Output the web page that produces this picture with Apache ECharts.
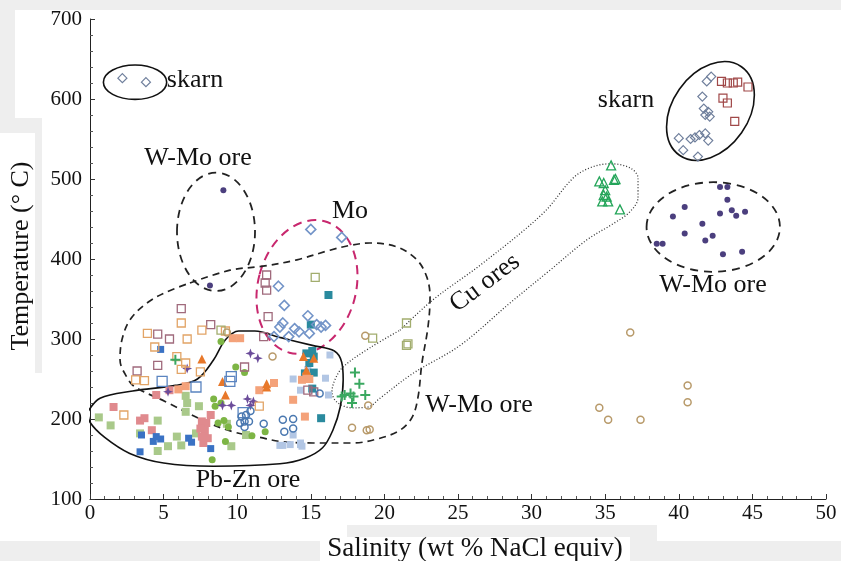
<!DOCTYPE html>
<html>
<head>
<meta charset="utf-8">
<script src="https://cdn.jsdelivr.net/npm/echarts@6.0.0/dist/echarts.min.js"></script>
<style>
  html, body { margin: 0; padding: 0; background: #ffffff; }
  #chart { width: 841px; height: 561px; }
</style>
</head>
<body>
<div id="chart"></div>
<script>
// Salinity (wt % NaCl equiv) vs homogenization temperature (°C)

// ---- axes ----
const xMin = 0, xMax = 50, xStep = 5;
const yMin = 100, yMax = 700, yStep = 100;

// ---- fluid-inclusion data, [salinity, temperature] ----
const skarnDiamonds = [[2.2,626],[3.8,621],[41.9,622],[42.2,628],[41.6,603],[41.7,588],[42.0,584],[41.8,580],[42.1,578],[40.0,551],[40.8,550],[41.1,552],[41.4,555],[41.8,557],[42.0,548],[40.3,536],[41.3,528]];
const skarnSquares = [[42.9,622],[43.3,620],[43.7,620],[44.0,621],[44.7,615],[43.0,601],[43.3,595],[43.8,572]];
const wmoDots = [[9.06,486],[8.15,367],[42.8,490],[43.3,490],[43.3,474],[42.8,457],[43.6,461],[43.9,454],[44.5,459],[40.4,465],[39.6,453],[41.6,444],[40.4,432],[42.3,429],[41.8,423],[38.5,419],[38.9,419],[43.0,406],[44.3,409]];
const cuTriangles = [[35.4,517],[34.6,497],[34.9,495],[35.6,499],[35.7,500],[35.0,486],[34.9,480],[35.1,478],[34.8,472],[35.2,472],[36.0,462]];
const greenCrosses = [[18.0,258],[18.3,244],[17.3,230],[17.7,232],[17.9,228],[18.7,230],[17.1,228],[17.8,220],[5.8,274]];
const tanCircles = [[36.7,308],[40.6,242],[40.6,221],[34.6,214],[35.2,199],[37.4,199],[18.7,304],[18.9,217],[17.8,189],[18.8,186],[19.0,187],[12.4,278],[9.3,308]];
const oliveSquares = [[19.2,301],[21.5,292],[21.6,294],[21.5,320],[15.3,377],[8.9,311]];
const moDiamonds = [[15.0,437],[17.1,427],[12.8,366],[13.2,342],[14.8,329],[15.4,318],[16.0,317],[15.7,315],[14.9,307],[13.9,313],[14.2,309],[12.9,315],[13.1,320],[12.5,303],[13.5,303]];
const mauveSquares = [[12.0,380],[11.9,370],[12.0,361],[12.1,328],[11.8,303],[6.2,338],[4.6,306],[5.4,300],[4.6,267],[3.2,260],[8.2,318],[10.5,265],[14.8,236],[15.2,234]];
const orangeSquares = [[6.2,320],[3.9,307],[6.6,300],[7.6,311],[4.4,290],[6.5,270],[6.2,262],[3.1,249],[3.7,248],[7.5,259],[2.3,205],[11.5,216],[9.2,310],[5.9,278]];
const orangeTriangles = [[7.6,275],[9.0,247],[12.0,240],[12.0,244],[9.2,230],[14.5,278],[15.2,276],[14.7,261]];
const salmonSquares = [[11.5,236],[12.5,245],[14.7,253],[14.4,249],[13.8,224],[14.6,203],[9.7,301],[10.2,301],[14.9,250],[6.5,241],[6.0,237]];
const tealSquares = [[15.1,285],[15.2,278],[14.9,270],[14.6,257],[15.2,258],[15.1,238],[15.7,201],[16.2,355],[15.0,318],[14.7,282]];
const blueSquares = [[4.8,175],[4.3,172],[4.5,178],[3.5,180],[3.4,159],[6.7,176],[6.9,171],[4.8,287],[8.2,163]];
const pinkSquares = [[1.6,215],[3.4,198],[3.7,201],[4.2,186],[7.6,197],[7.9,195],[7.5,188],[7.8,185],[7.6,178],[8.0,176],[7.7,170],[4.5,230],[5.4,236],[8.2,205]];
const greenSquares = [[0.6,202],[1.4,192],[4.6,198],[3.4,182],[4.6,160],[5.3,166],[5.9,178],[6.2,167],[6.6,220],[6.5,209],[7.2,182],[9.3,194],[7.4,216],[9.6,166],[6.5,229],[10.6,180]];
const greenCircles = [[8.5,216],[8.7,195],[9.1,198],[9.2,172],[8.3,149],[11.0,179],[11.9,184],[8.9,297],[10.5,258],[8.4,225],[8.9,220],[9.4,190],[9.9,265]];
const purpleStars = [[10.9,282],[11.4,276],[9.6,217],[10.9,217],[11.1,222],[6.6,263],[9.0,217],[5.3,234],[10.7,225]];
const blueCircles = [[10.3,203],[10.6,205],[10.5,197],[10.8,197],[10.2,195],[10.5,190],[11.8,194],[13.1,199],[13.8,200],[13.2,184],[13.8,188],[15.6,232],[10.9,210]];
const blueOpenSquares = [[4.9,247],[7.2,240],[9.6,253],[9.5,247],[10.4,208]];
const paleBlueSquares = [[13.8,250],[13.8,180],[14.3,168],[12.9,167],[14.3,170],[16.3,280],[16.0,251],[16.2,230],[14.3,236],[13.6,168],[14.4,166],[13.1,167],[14.8,262]];

// ---- field outlines, [salinity, temperature] ----
const pbZnOutline = [[-0.14,209],[0.68,226],[2.9,235],[5.8,242],[7.3,250],[8.4,274],[9.2,299],[10.1,310],[11.2,310],[12.9,302],[15.1,292],[16.6,285],[17.1,271],[17.2,249],[17.0,215],[16.5,186],[15.8,164],[14.6,151],[12.9,144],[8.4,141],[5.0,145],[2.7,157],[1.0,177],[0,196],[-0.14,209]];
const wmoOutline = [[6.79,370],[9.51,386],[11.75,391],[14.06,399],[16.3,411],[17.66,417],[19.02,420],[20.86,415],[22.21,399],[22.89,377],[23.1,352],[22.96,315],[22.55,270],[22.28,227],[21.88,202],[21.06,186],[19.7,176],[17.87,170],[15.15,170],[12.91,172],[11.55,177],[9.71,184],[7.95,196],[5.1,222],[3.06,240],[2.51,252],[2.04,274],[2.17,299],[2.72,324],[3.87,345],[5.23,359],[6.79,370]];
const cuOutline = [[21.06,311],[23.3,349],[26.7,395],[30.77,457],[32.81,501],[33.97,514],[35.33,519],[36.68,514],[37.23,501],[37.23,477],[36.68,459],[35.53,444],[33.76,424],[31.25,386],[28.53,345],[25.14,292],[21.94,257],[19.7,226],[18.89,215],[17.8,214],[16.78,221],[16.44,234],[16.64,249],[17.19,265],[19.02,289],[21.06,311]];
// ellipses: [centre x, centre y, half-width, half-height, tilt in degrees]
const solidEllipses = [[3.06,621,2.15,21.5,0],[42.15,585,2.58,67.5,-35]];
const dashedEllipses = [[8.56,434,2.65,74,0],[42.34,440,4.53,56,0]];
const moEllipse = [[14.74,365,3.33,85,-15]];

const FONT = '"Liberation Serif","Times New Roman",serif';

function points(data, symbol, size, fill, stroke, bw) {
  return {
    type: 'scatter', data, symbol, symbolSize: size, z: 4,
    itemStyle: { color: fill, borderColor: stroke, borderWidth: bw || 0, opacity: 1 },
    emphasis: { disabled: true }, silent: true
  };
}
const OPEN = 'rgba(0,0,0,0)';
const PLUS = 'path://M4,0H6V4H10V6H6V10H4V6H0V4H4Z';
const STAR = 'path://M5,0L6.3,3.7L10,5L6.3,6.3L5,10L3.7,6.3L0,5L3.7,3.7Z';

function outline(data, color, width, type) {
  return {
    type: 'line', data, smooth: 0.35, showSymbol: false, symbol: 'none', clip: false, z: 3,
    lineStyle: { color, width, type }, silent: true
  };
}
function ellipses(rows, color, width, dash) {
  return {
    type: 'custom', data: rows, clip: false, silent: true, z: 3,
    encode: { x: 0, y: 1 },
    renderItem(params, api) {
      const c = api.coord([api.value(0), api.value(1)]);
      const s = api.size([api.value(2), api.value(3)]);
      return {
        type: 'ellipse', x: c[0], y: c[1], rotation: api.value(4) * Math.PI / 180,
        shape: { cx: 0, cy: 0, rx: s[0], ry: s[1] },
        style: { fill: 'none', stroke: color, lineWidth: width, lineDash: dash }
      };
    }
  };
}

function label(text, x, y, rot) {
  return {
    type: 'text', x, y, rotation: rot || 0, z: 20,
    style: { text, font: '26px ' + FONT, fill: '#111', textAlign: 'center', textVerticalAlign: 'middle', align: 'center', verticalAlign: 'middle' }
  };
}

const chart = echarts.init(document.getElementById('chart'), null, { renderer: 'canvas' });
chart.setOption({
  animation: false,
  backgroundColor: '#ffffff',
  grid: { left: 90, right: 15, top: 19, bottom: 62, containLabel: false },
  xAxis: {
    type: 'value', min: xMin, max: xMax, interval: xStep,
    axisLine: { lineStyle: { color: '#222', width: 1 } },
    axisTick: { inside: true, length: 5, lineStyle: { color: '#333' } },
    minorTick: { show: true, splitNumber: 5, length: 3, lineStyle: { color: '#555' } },
    splitLine: { show: false },
    axisLabel: { color: '#111', fontFamily: FONT, fontSize: 21, margin: 4 }
  },
  yAxis: {
    type: 'value', min: yMin, max: yMax, interval: yStep,
    axisLine: { show: true, lineStyle: { color: '#222', width: 1 } },
    axisTick: { show: true, inside: true, length: 5, lineStyle: { color: '#333' } },
    minorTick: { show: true, splitNumber: 5, length: 3, lineStyle: { color: '#555' } },
    splitLine: { show: false },
    axisLabel: { color: '#111', fontFamily: FONT, fontSize: 21, margin: 8 }
  },
  graphic: [
    // scanned-page margins
    { type: 'rect', shape: { x: 0, y: 0, width: 841, height: 10 }, style: { fill: '#eeeeee' }, z: 0 },
    { type: 'rect', shape: { x: 0, y: 0, width: 15, height: 118 }, style: { fill: '#eeeeee' }, z: 0 },
    { type: 'rect', shape: { x: 0, y: 118, width: 42, height: 15 }, style: { fill: '#eeeeee' }, z: 0 },
    { type: 'rect', shape: { x: 35, y: 133, width: 7, height: 240 }, style: { fill: '#eeeeee' }, z: 0 },
    { type: 'rect', shape: { x: 0, y: 541, width: 841, height: 20 }, style: { fill: '#eeeeee' }, z: 0 },
    { type: 'rect', shape: { x: 347, y: 525, width: 310, height: 16 }, style: { fill: '#eeeeee' }, z: 0 },
    { type: 'rect', shape: { x: 320, y: 537, width: 310, height: 24 }, style: { fill: '#ffffff' }, z: 1 },
    // axis titles
    { type: 'text', x: 21, y: 256, rotation: Math.PI / 2, z: 20,
      style: { text: 'Temperature (° C)', font: '26px ' + FONT, fill: '#111', textAlign: 'center', textVerticalAlign: 'middle', align: 'center', verticalAlign: 'middle' } },
    { type: 'text', x: 475, y: 549, z: 20,
      style: { text: 'Salinity (wt % NaCl equiv)', font: '27px ' + FONT, fill: '#111', textAlign: 'center', textVerticalAlign: 'middle', align: 'center', verticalAlign: 'middle' } },
    // field labels
    label('skarn', 195, 80),
    label('W-Mo ore', 198, 158),
    label('Mo', 350, 211),
    label('Cu ores', 485, 283, 37 * Math.PI / 180),
    label('W-Mo ore', 479, 405),
    label('skarn', 626, 100),
    label('W-Mo ore', 713, 285),
    label('Pb-Zn ore', 248, 480)
  ],
  series: [
    outline(pbZnOutline, '#111', 1.6, 'solid'),
    outline(wmoOutline, '#222', 1.7, [7, 5]),
    outline(cuOutline, '#333', 1.3, [1, 2]),
    ellipses(solidEllipses, '#111', 1.6, null),
    ellipses(dashedEllipses, '#222', 1.8, [8, 6]),
    ellipses(moEllipse, '#c8286e', 2, [9, 6]),

    points(greenSquares, 'rect', 8, '#a9c98a', null, 0),
    points(pinkSquares, 'rect', 8, '#e08a8e', null, 0),
    points(blueSquares, 'rect', 7, '#3a72c4', null, 0),
    points(paleBlueSquares, 'rect', 7, '#b2c6e4', null, 0),
    points(tealSquares, 'rect', 8, '#2a8a9e', null, 0),
    points(salmonSquares, 'rect', 8, '#f4a27a', null, 0),
    points(greenCircles, 'circle', 7, '#7db545', null, 0),
    points(orangeTriangles, 'triangle', 9, '#e8782a', null, 0),
    points(purpleStars, STAR, 10, '#6b4c9a', null, 0),
    points(mauveSquares, 'rect', 8, OPEN, '#a06a7c', 1.3),
    points(orangeSquares, 'rect', 8, OPEN, '#e2a466', 1.3),
    points(oliveSquares, 'rect', 8, OPEN, '#a2ad6e', 1.3),
    points(blueOpenSquares, 'rect', 10, OPEN, '#5a84c0', 1.3),
    points(blueCircles, 'circle', 7, OPEN, '#4a78b0', 1.5),
    points(tanCircles, 'circle', 7, OPEN, '#b89a6a', 1.5),
    points(moDiamonds, 'diamond', 10, OPEN, '#7394c8', 1.6),
    points(skarnDiamonds, 'diamond', 9, OPEN, '#6f7f9c', 1.2),
    points(skarnSquares, 'rect', 8, OPEN, '#a04848', 1.2),
    points(greenCrosses, PLUS, 10, '#3aa860', null, 0),
    points(cuTriangles, 'triangle', 9, OPEN, '#25a55a', 1.3),
    points(wmoDots, 'circle', 6, '#4b3f7e', null, 0)
  ]
});
</script>
</body>
</html>
